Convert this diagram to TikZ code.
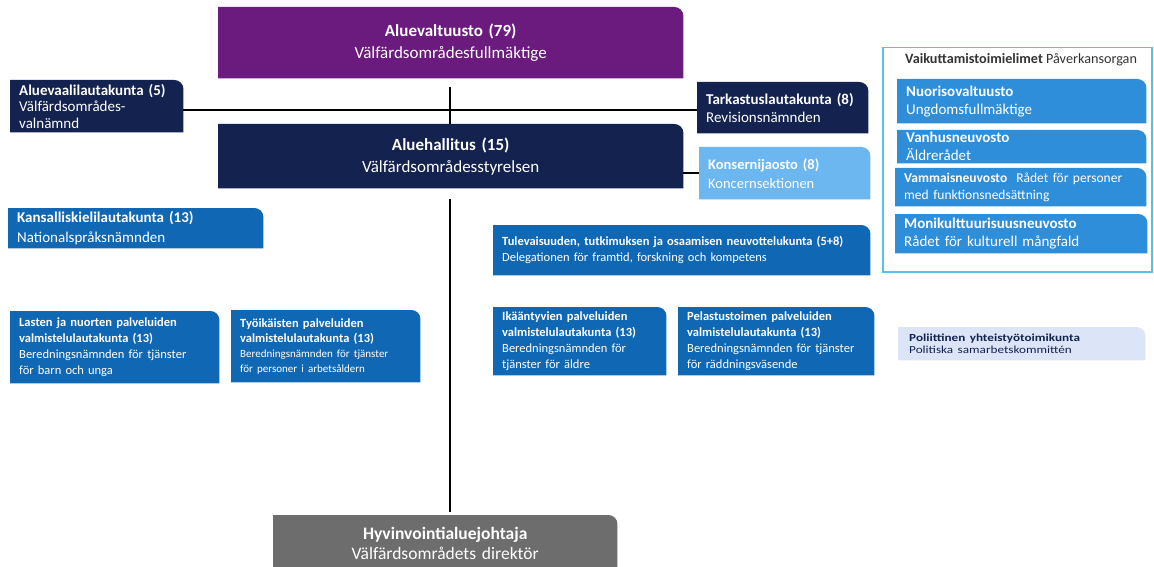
\documentclass[tikz,border=0pt]{standalone}
\usepackage{fontspec}
\setmainfont{Carlito}
\usetikzlibrary{backgrounds}
\definecolor{cPurple}{HTML}{6A1B7D}
\definecolor{cNavy}{HTML}{14224F}
\definecolor{cBlue}{HTML}{1068B4}
\definecolor{cMid}{HTML}{2E8EDA}
\definecolor{cLight}{HTML}{6CB7F0}
\definecolor{cPale}{HTML}{DCE5F7}
\definecolor{cGrey}{HTML}{6D6D6D}
\definecolor{cFrame}{HTML}{5BBFE8}
\newcommand{\fsz}[2]{\fontsize{#1}{#2}\selectfont}
\newcommand{\wide}[1]{\scalebox{1.22}[1]{#1}}
\tikzset{
	org/.style={anchor=north west,inner xsep=9pt,inner ysep=1pt,text=white,align=left},
	wh/.code 2 args={\pgfmathsetmacro\tw{#1-18}\pgfkeysalso{minimum width=#1pt,minimum height=#2pt,text width=\tw pt}},
	link/.style={line width=1.8pt}
}
\begin{document}
\begin{tikzpicture}[x=1pt,y=-1pt]
	\useasboundingbox (0,0) rectangle (1154,567);
	\node[org,wh={465}{71},align=center,font=\fsz{17}{22}] (valt) at (218,7) {\textbf{Aluevaltuusto (79)}\\Välfärdsområdesfullmäktige};
	\node[org,wh={173}{52},font=\fsz{15}{16.5}] (vaal) at (10,80) {\textbf{Aluevaalilautakunta (5)}\\Välfärdsområdes-\\valnämnd};
	\node[org,wh={171}{51},font=\fsz{15}{18}] (tark) at (697,82) {\textbf{Tarkastuslautakunta (8)}\\Revisionsnämnden};
	\node[org,wh={465}{64},align=center,font=\fsz{17}{22}] (hall) at (218,124) {\textbf{Aluehallitus (15)}\\Välfärdsområdesstyrelsen};
	\node[org,wh={171}{52},font=\fsz{14.5}{19}] (kons) at (699,147) {\textbf{Konsernijaosto (8)}\\Koncernsektionen};
	\node[org,wh={255}{40},font=\fsz{15}{20}] (kans) at (8,208) {\textbf{Kansalliskielilautakunta (13)}\\Nationalspråksnämnden};
	\node[org,wh={377}{50},font=\fsz{12.5}{16}] (tule) at (493,225) {\textbf{Tulevaisuuden, tutkimuksen ja osaamisen neuvottelukunta (5+8)}\\Delegationen för framtid, forskning och kompetens};
	\node[org,wh={209}{72},font=\fsz{12.5}{16}] (last) at (10,311) {\textbf{Lasten ja nuorten palveluiden}\\\textbf{valmistelulautakunta (13)}\\Beredningsnämnden för tjänster\\för barn och unga};
	\node[org,wh={189}{72},font=\fsz{12.5}{15}] (tyoi) at (231,310) {\textbf{Työikäisten palveluiden}\\\textbf{valmistelulautakunta (13)}\\{\fsz{11}{15}Beredningsnämnden för tjänster}\\{\fsz{11}{15}för personer i arbetsåldern}};
	\node[org,wh={173}{68},font=\fsz{12.5}{16}] (ikaa) at (493,307) {\textbf{Ikääntyvien palveluiden}\\\textbf{valmistelulautakunta (13)}\\Beredningsnämnden för\\tjänster för äldre};
	\node[org,wh={196}{68},font=\fsz{12.5}{16}] (pela) at (678,307) {\textbf{Pelastustoimen palveluiden}\\\textbf{valmistelulautakunta (13)}\\Beredningsnämnden för tjänster\\för räddningsväsende};
	\node[org,wh={243}{33},inner xsep=11pt,text=cNavy,font=\fsz{10.8}{12}] (poli) at (898,327) {\wide{\textbf{Poliittinen yhteistyötoimikunta}}\\\wide{Politiska samarbetskommittén}};
	\node[org,wh={344}{56},align=center,font=\fsz{17.5}{20}] (dir) at (273,515) {\textbf{Hyvinvointialuejohtaja}\\Välfärdsområdets direktör};
	% vaikuttamistoimielimet
	\node[anchor=north west,draw=cFrame,line width=1.5pt,minimum width=269pt,minimum height=224pt,inner sep=0pt] (vaik) at (882,47) {};
	\node[anchor=west,inner sep=0pt,text=black!80,font=\fsz{14.2}{16}] (vaikt) at (905,60) {\textbf{Vaikuttamistoimielimet} Påverkansorgan};
	\node[org,wh={249}{44},font=\fsz{15}{18}] (nuor) at (897,79) {\textbf{Nuorisovaltuusto}\\Ungdomsfullmäktige};
	\node[org,wh={249}{33},inner ysep=0pt,font=\fsz{15}{18}] (vanh) at (897,130) {\textbf{Vanhusneuvosto}\\Äldrerådet};
	\node[org,wh={251}{38},font=\fsz{13.5}{17}] (vamm) at (895,168) {\textbf{Vammaisneuvosto}\ \ Rådet för personer\\med funktionsnedsättning};
	\node[org,wh={252}{39},font=\fsz{15}{18}] (moni) at (895,214) {\textbf{Monikulttuurisuusneuvosto}\\Rådet för kulturell mångfald};
	\begin{scope}[on background layer]
		\foreach \n/\c in {valt/cPurple,vaal/cNavy,tark/cNavy,hall/cNavy,kons/cLight,kans/cBlue,tule/cBlue,last/cBlue,tyoi/cBlue,ikaa/cBlue,pela/cBlue,poli/cPale,dir/cGrey,nuor/cMid,vanh/cMid,vamm/cMid,moni/cMid}
			\fill[\c] (\n.south west) |- ([xshift=-9pt]\n.north east) arc[start angle=90,end angle=0,radius=9pt] |- (\n.south west) -- cycle;
	\end{scope}
	\coordinate (j) at (450,110);
	\coordinate (top) at (450,87);
	\coordinate (mid) at (450,199);
	\draw[link] (vaal.east |- j) -- (tark.west |- j);
	\draw[link] (top) -- (top |- hall.north);
	\draw[link] (kons.west) -- (kons.west -| hall.east);
	\draw[link] (mid) -- ([yshift=3pt]mid |- dir.north);
\end{tikzpicture}
\end{document}
